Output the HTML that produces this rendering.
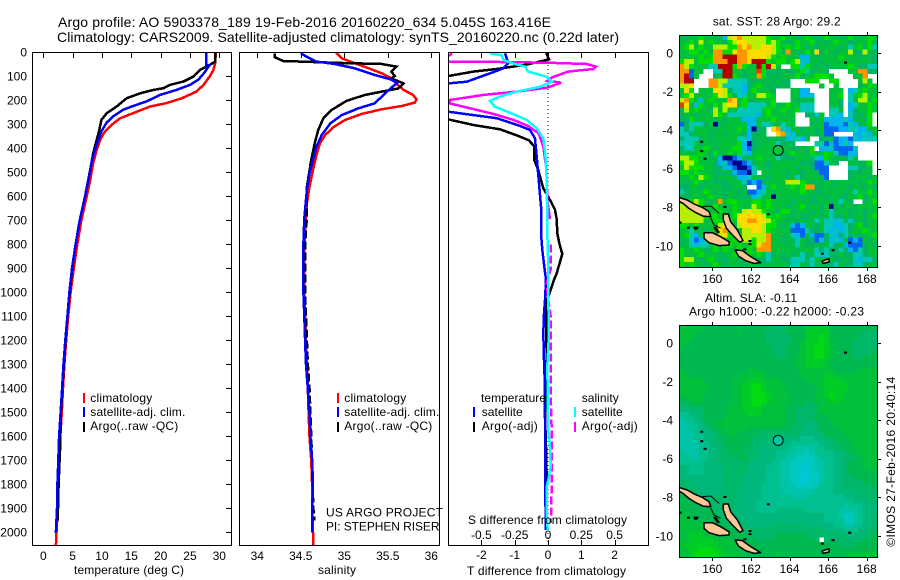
<!DOCTYPE html>
<html lang="en">
<head>
<meta charset="utf-8">
<title>Argo profile 5903378_189</title>
<style>
html,body{margin:0;padding:0;background:#fff;width:900px;height:580px;overflow:hidden}
svg{display:block}
text{font-family:"Liberation Sans",Arial,sans-serif;font-size:12px;fill:#000}
.t14{font-size:14px}
</style>
</head>
<body>
<svg id="chart" xmlns="http://www.w3.org/2000/svg" width="900" height="580" viewBox="0 0 900 580">
  <defs>
    <clipPath id="clip-p1"><rect x="33" y="53" width="198" height="492"/></clipPath>
    <clipPath id="clip-p2"><rect x="240" y="53" width="199" height="492"/></clipPath>
    <clipPath id="clip-p3"><rect x="449" y="53" width="199" height="492"/></clipPath>
    <clipPath id="clip-m1"><rect x="680" y="36" width="197" height="231"/></clipPath>
    <clipPath id="clip-m2"><rect x="680" y="326" width="197" height="231"/></clipPath>
  </defs>
  <text class="t14" x="58" y="27" textLength="493">Argo profile: AO 5903378_189 19-Feb-2016 20160220_634 5.045S 163.416E</text>
  <text class="t14" x="57" y="42" textLength="562">Climatology: CARS2009. Satellite-adjusted climatology: synTS_20160220.nc (0.22d later)</text>

  <g id="layer-maps"></g>
  <g id="layer-series"></g>
  <g id="layer-axes"></g>

  <text x="74" y="574" textLength="110">temperature (deg C)</text>
  <text x="318" y="574" textLength="38">salinity</text>
  <text x="468" y="524" textLength="159">S difference from climatology</text>
  <text x="467" y="575" textLength="159">T difference from climatology</text>

  <g>
    <rect x="83" y="393" width="2" height="10" fill="#f00"/>
    <rect x="83" y="407" width="2" height="10" fill="#00f"/>
    <rect x="83" y="422" width="2" height="10" fill="#000"/>
    <text x="90.3" y="402" textLength="62">climatology</text>
    <text x="90.3" y="416" textLength="95">satellite-adj. clim.</text>
    <text x="90.3" y="430" textLength="88">Argo(..raw -QC)</text>
  </g>
  <g>
    <rect x="337" y="393" width="2" height="10" fill="#f00"/>
    <rect x="337" y="407" width="2" height="10" fill="#00f"/>
    <rect x="337" y="422" width="2" height="10" fill="#000"/>
    <text x="344.3" y="402" textLength="62">climatology</text>
    <text x="344.3" y="416" textLength="95">satellite-adj. clim.</text>
    <text x="344.3" y="430" textLength="88">Argo(..raw -QC)</text>
  </g>
  <g>
    <text x="481" y="402" textLength="65">temperature</text>
    <rect x="473" y="407" width="2" height="10" fill="#00f"/>
    <rect x="473" y="422" width="2" height="10" fill="#000"/>
    <text x="481.7" y="416" textLength="41">satellite</text>
    <text x="481.7" y="430" textLength="56">Argo(-adj)</text>
    <text x="581.7" y="402" textLength="37">salinity</text>
    <rect x="574" y="407" width="2" height="10" fill="#0ff"/>
    <rect x="574" y="422" width="2" height="10" fill="#f0f"/>
    <text x="581.7" y="416" textLength="41">satellite</text>
    <text x="581.7" y="430" textLength="56">Argo(-adj)</text>
  </g>
  <text x="326" y="516.7" textLength="117">US ARGO PROJECT</text>
  <text x="326" y="530.7" textLength="113.5">PI: STEPHEN RISER</text>

  <text x="712.7" y="25.7" textLength="128">sat. SST: 28 Argo: 29.2</text>
  <text x="705" y="302" textLength="92">Altim. SLA: -0.11</text>
  <text x="689" y="315.7" textLength="175">Argo h1000: -0.22 h2000: -0.23</text>
  <text transform="translate(895,546.7) rotate(-90)" x="0" y="0" textLength="170">©IMOS 27-Feb-2016 20:40:14</text>
</svg>
<script>
// ---------- axis tick values ----------
const depthTicks = [0,100,200,300,400,500,600,700,800,900,1000,1100,1200,1300,1400,1500,1600,1700,1800,1900,2000];
const tempTicks = [0,5,10,15,20,25,30];
const salTicks = [34,34.5,35,35.5,36];
const salTickLabels = ['34','34.5','35','35.5','36'];
const tDiffTicks = [-2,-1,0,1,2];
const sDiffTicks = [-0.5,-0.25,0,0.25,0.5];
const sDiffLabels = ['-0.5','-0.25','0','0.25','0.5'];
const lonTicks = [160,162,164,166,168];
const latTicks = [0,-2,-4,-6,-8,-10];

// ---------- temperature profiles ----------
const tempClimDepth = [0,46,74,100,136,164,192,212,226,254,275,303,330,365,407,462,532,601,700,800,900,1000,1100,1200,1300,1400,1500,1600,1700,1800,1900,2000,2053];
const tempClimValue = [29.4,29.3,29.0,28.4,27.3,26.1,23.6,21.0,18.2,15.3,13.1,11.6,10.5,9.7,9.1,8.5,8.0,7.4,6.5,5.8,5.2,4.65,4.25,3.9,3.6,3.35,3.15,2.9,2.7,2.55,2.45,2.25,2.15];
const tempSatDepth = [0,53,56,90,115,136,157,178,205,224,240,268,293,330,365,407,462,532,601,700,800,900,1000,1100,1200,1300,1400,1500,1600,1700,1800,1900,2000];
const tempSatValue = [27.8,27.8,28.3,27.3,26.4,25.0,22.7,19.9,17.6,15.3,13.6,11.9,10.8,9.9,9.4,8.8,8.2,7.7,7.1,6.2,5.5,4.9,4.45,4.1,3.75,3.45,3.2,2.95,2.7,2.55,2.4,2.33,2.15];
const tempArgoDepth = [0,39,57,74,101,122,136,150,157,171,192,226,254,282,330,365,421,490,601,700,800,900,1000,1100,1200,1300,1400,1500,1660,1800,1950];
const tempArgoValue = [29.3,29.3,28.1,26.7,25.6,23.9,21.6,20.5,18.8,16.5,14.2,12.5,10.8,9.9,9.5,9.1,8.5,8.0,7.1,6.2,5.5,4.95,4.5,4.1,3.8,3.5,3.25,3.0,2.85,2.6,2.45];

// ---------- salinity profiles ----------
const salClimDepth = [0,26,39,67,88,109,137,157,178,196,210,224,238,257,282,313,345,380,428,490,560,629,800,1000,1200,1400,1500,1600,1700,1800,1900,2000,2053];
const salClimValue = [34.90,34.97,35.07,35.28,35.43,35.54,35.62,35.68,35.79,35.83,35.81,35.66,35.43,35.2,35.01,34.87,34.78,34.72,34.68,34.64,34.6,34.57,34.54,34.54,34.56,34.58,34.59,34.6,34.62,34.63,34.63,34.64,34.64];
const salSatDepth = [5,19,39,49,67,95,113,127,151,178,213,234,262,296,345,393,449,504,574,692,800,900,1000,1100,1200,1300,1400,1500,1600,1700,1800,1900,2000];
const salSatValue = [34.50,34.57,34.68,34.89,35.12,35.35,35.53,35.61,35.53,35.45,35.35,35.16,34.97,34.84,34.74,34.68,34.64,34.6,34.57,34.54,34.53,34.53,34.53,34.54,34.55,34.56,34.58,34.6,34.61,34.63,34.64,34.63,34.63];
const salArgoDepth = [5,21,37,39,44,49,60,81,99,109,130,151,164,178,202,241,275,324,380,449,560,685,800,900,1000,1100,1200,1300,1400,1500,1600,1700,1800,1900,1950];
const salArgoValue = [34.2,34.2,34.3,34.51,34.89,35.43,35.6,35.54,35.58,35.54,35.68,35.62,35.43,35.24,35.03,34.85,34.76,34.7,34.66,34.62,34.57,34.57,34.55,34.55,34.55,34.56,34.57,34.58,34.6,34.61,34.62,34.63,34.635,34.645,34.655];

// ---------- differences from climatology ----------
const tDiffArgoDepth = [0,30,52,70,81,99,130,250,280,303,321,349,366,391,449,491,567,623,657,695,754,796,840,921,956,997,1032,1088,1171,1254,1365,1407,1546,1643,1782,1950];
const tDiffArgoValue = [-0.06,0.03,-0.66,-1.54,-2.24,-2.99,-3.6,-3.6,-2.99,-2.24,-1.44,-0.89,-0.59,-0.41,-0.41,-0.29,-0.14,0.09,0.21,0.26,0.28,0.34,0.43,0.26,0.16,0.06,-0.02,-0.06,-0.06,-0.04,-0.04,-0.07,-0.08,-0.06,-0.04,-0.04];
const tDiffSatDepth = [5,46,67,88,123,130,160,240,248,262,275,307,324,359,435,546,643,699,754,824,893,949,1032,1088,1171,1282,1365,1435,1615,1782,1851,1990];
const tDiffSatValue = [-1.29,-1.19,-1.34,-1.74,-2.44,-2.99,-3.6,-3.6,-2.99,-2.24,-1.54,-0.84,-0.54,-0.39,-0.34,-0.27,-0.21,-0.21,-0.21,-0.17,-0.11,-0.06,-0.09,-0.12,-0.14,-0.12,-0.1,-0.1,-0.08,-0.08,-0.08,-0.06];
const sDiffArgoDepth = [5,21,39,41,44,49,60,70,81,105,119,127,148,164,178,199,213,237,257,282,307,338,393,477,532,616,695,800,900,962,1032,1101,1310,1450,1560,1740,1960];
const sDiffArgoValue = [-0.72,-0.76,-0.75,-0.36,0.015,0.29,0.36,0.34,0.15,0.03,-0.005,0.10,-0.01,-0.235,-0.485,-0.735,-0.74,-0.56,-0.41,-0.26,-0.15,-0.07,-0.035,-0.015,-0.01,-0.005,0.015,0.022,0.022,-0.01,0.002,0.02,0.02,0.02,0.027,0.03,0.022];
const sDiffSatDepth = [5,12,32,49,60,81,102,123,144,164,185,202,227,252,282,317,359,421,532,699,754,893,1032,1171,1310,1573,1643,1726,1782,1810,1921,1990];
const sDiffSatValue = [-0.435,-0.35,-0.335,-0.25,-0.17,-0.15,-0.01,0.03,-0.06,-0.235,-0.36,-0.435,-0.4,-0.285,-0.16,-0.085,-0.035,-0.02,-0.01,-0.005,-0.005,0.0025,0.0025,0.0075,-0.005,0.0025,0.015,0.02,0.0025,-0.01,-0.01,-0.0025];

// ---------- SST map: one string per 0.25 deg row, one letter per cell, '.' = no data ----------
const sstLevels = 'abcdefghijkl';
const sstRows = [
'feffgffefchijhhhhhgffgffefgfefgffefgeffgf',
'ffgfhfgffeghiihhhhghgfefgffgefefgffefffge',
'fghfgffhhhggjijhhiihgfgfgfefeffffefdfgegd',
'ffggfgfjjggijjiiiiihgejfefgfieffeffheehfe',
'ffffgfgjjllljjiiiihgfgfffccfeffffgfffefee',
'ghhfgggjjjlljjilllgfggfghdcffeffffffffffe',
'jhgfffddlllgjgfflglhf..ggdgfefeffffgfeedd',
'jjbff..ddllffeffkgeeefeefgdeffe....ffjjee',
'jlbf...efllgfeffjgefefffgeffgggf....ffj..',
'jll...jjhhddddeefefefee...ggg..gg....fhf.',
'hhi...jjhddddcefgfefefe......f..f....efgf',
'fig.fffiiheddcfgfffe...ffcc....fff.cdfgff',
'fghffffgihgeddffhhgf...ffccc...ffg.dfghff',
'hjgfcfgfffjifgfefffg...fefff...ffe.dfhhfg',
'kifcgffgfhiifgddddfgefgffddd...ffe.cdffgf',
'ehfgffehfhffdddddfgffgffgddd...ddf.ceffgf',
'effefffhgfddddddcfgfffff..eedf.ddc.deefg.',
'eegffffefefffcccfffgffff...fefccccdcefeg.',
'bedddefaefffffccfddefdff...effbcccbdcefg.',
'dedffffeffffgfcaee.ijdcffeffefbbbccddccff',
'ddefffeffefffeceef..ijdcffefefbb....ccdcf',
'edddefefffffddceffefeecddcf..effbccbdcddd',
'dddfeffeffffgcaeefffdefe....ddbcbcdc.....',
'eddffgfefffggcbefffffffeefeg.ccdbbbbd....',
'ffffgfegffgfgdcffffeeefgffegffgfdbbcc....',
'hhggffefcaabceffgfffdeeefffedcgfefedf....',
'ghhgfffecdbaabceffeffffffeeebbdfe..ffefg.',
'fhgggffeeccbaabdffefffffeffebbb....ddeef.',
'ggfgfffeefecbbad.fffffeffeffebb....efeff.',
'ffgfhgfefffeccdfffefffefdefffeb....efffef',
'fefgfefeeefffdbcbeffffhhhgfefeffeffffefgf',
'eeffeffffeeffe..bcfgfffgfgjjeffefffeffefe',
'defffgfefeffefbbcdfefffffgffeeffffefdffgf',
'feffffgffefefeecdffafffffefeffeffeeffgeff',
'gfghgfefjfggfffggfgffffefffeeffefdfe..efg',
'hhhhgffgfffgfffhgfgfffeffgeffefafeffeffff',
'hhhhhgffgffgfhihhgffeggefffefefdeffeffeff',
'hhhhhgggfefgiiiiihgfgffefeeffefdeefeffefg',
'hhhhhffggdgfiijjiihgffefefefdfddcdedefeff',
'ggfgfffehihfhiiiihggfefcbcffefddccdefgeff',
'ffdffeffijggfhhiihgffffbbbdeefdcdcdeffgff',
'fgdcfeffhigfghhhhhjffefdcbfcbbedcedefeffg',
'fedbcdfffgfgghhghhjffefedfeebcecdcfbcbfef',
'efdcddfgfggfgfggijjfffefdfeefefdefcbbbefe',
'gffgfefgfgffgfgfjjjfffffefffdedeedecbdeff',
'gfffgfffeffgffgfgfdefefefdefdddeefeeddeff',
'ghhfefgfeeffefffeedffeedddedfeffeefedcdde',
'gfgffefgfefffefffeffffeddfedefeedfeeddef'.padEnd(41,'f')
];

// ---------- SLA map: digit levels 0 (cyan) .. 9 (bright green) ----------
const slaRows = [
'77777666666676666665556666888886666666666',
'77776666666676666655556666888886666666555',
'77766666666666666655555666888986666665555',
'77666666666666666655555667888987666655555',
'76666666666666666665556667889987666655555',
'66666666666666666665556667889987666655556',
'66666666666666666666556677889987666655666',
'66666666666666666666666677888877666666666',
'66666666666666666666666677888876666666666',
'76666666666666777666666667777777666667777',
'77666666666677778766666667777788777777777',
'77777666666777888777766666777788887777777',
'77777766666778899877776666667788888777777',
'77777766666778899877776666667788888777777',
'77777666666778899987777666667789887777777',
'66777666666778899987777666667778887777777',
'55666666667778899877776666556777777777777',
'44555666667778888777776655556777777777777',
'33445666667777888777776655556677777777777',
'23345666677777777777776655556667777777777',
'22334566777777777777776655445666777777777',
'22334456677777666666666555445666677777777',
'22233445667766665555555554444566667777777',
'22233445566666655554444443334455666777777',
'22223345566666655444444333333445566677777',
'22223344556666555444443322223344556677777',
'32223344556665554444333222123333445667777',
'33223344555566554444332211112333445566777',
'33333444555555544443322111012233445666777',
'44333444455555444433322110012233445666777',
'44333444455555444433322100011233445666666',
'44444444455554444433322110011233445566666',
'55444444455554444433322110011233445555666',
'55544444455554444333322211112333445555556',
'65554444455544444333322222223333444455555',
'66655445555544444333333222233333334445555',
'66666555555544443333333333333333333344455',
'66666655555544443333333333333333332333444',
'76666665555444443333444444333333322223444',
'77666666555544444444444444444433321123445',
'77776666655554444444444444444433331123445',
'77777666665555444445555555444444332233445',
'77777766666665555555555555555544443334455',
'77888777666666555555666666555555555444556',
'77888887777666665566666666665.55555555666',
'78888888777766666666666666666666655566666',
'77889998877766666666666666666666666666666',
'77899999877776666666766666666666666777777'
];

// ---------- map annotations (lon/lat) ----------
const argoLon = [163.416];
const argoLat = [-5.045];
const landLons = [
 [158.28,158.71,159.05,159.48,159.83,159.92,159.52,159.14,158.76,158.48,158.28],
 [160.57,160.83,160.95,161.30,161.59,161.42,161.04,160.73,160.57],
 [159.57,160.0,160.43,160.87,160.87,160.35,159.83,159.57],
 [161.18,161.56,161.99,162.51,162.16,161.73,161.35],
 [165.69,166.05,166.05,165.74]
];
const landLats = [
 [-7.48,-7.62,-7.82,-8.0,-8.22,-8.48,-8.45,-8.27,-8.03,-7.79,-7.68],
 [-8.34,-8.34,-8.74,-9.17,-9.72,-9.81,-9.43,-9.08,-8.65],
 [-9.31,-9.31,-9.52,-9.78,-9.95,-9.98,-9.83,-9.6],
 [-10.2,-10.24,-10.55,-10.86,-10.9,-10.76,-10.52],
 [-10.78,-10.66,-10.83,-10.90]
];
const reefLons = [
 [159.48,159.92,160.35],
 [159.92,160.09,160.43]
];
const reefLats = [
 [-7.96,-7.93,-8.31],
 [-8.55,-8.91,-9.08]
];
const isletLon = [159.1,159.2,159.14,160.14,160.25,160.2,160.3,160.66,162.9,161.95,161.95,161.69,159.62,159.45,159.45,166.9,158.33,158.76,166.26,165.71,167.12];
const isletLat = [-9.05,-9.05,-9.11,-9.05,-9.2,-9.13,-9.28,-7.98,-8.36,-9.74,-9.9,-10.17,-5.48,-5.09,-4.6,-0.5,-8.79,-9.05,-10.22,-10.4,-9.83];

// ---------- axis functions ----------
const SVGNS = 'http://www.w3.org/2000/svg';
const yDepth = d => 52.2 + d * 0.2401;
const xTemp = t => 43.3 + t * 5.867;
const xSal = s => 257.3 + (s - 34) * 87;
const xTDiff = t => 548 + t * 33.3;
const xSDiff = s => 548 + s * 133.2;
const xLon = lon => 712.3 + (lon - 160) * 19.3;
const ySst = lat => 53 - lat * 19.3;
const ySla = lat => 343 - lat * 19.3;

const seriesLayer = document.getElementById('layer-series');
const axesLayer = document.getElementById('layer-axes');
const mapsLayer = document.getElementById('layer-maps');

function drawLine(parent, name, clip, color, xFn, depths, values, deepFrom) {
  const shallow = [];
  const deep = [];
  depths.forEach((d, i) => {
    const p = xFn(values[i]).toFixed(1) + ',' + yDepth(d).toFixed(1);
    if (deepFrom === undefined || d <= deepFrom) shallow.push(p);
    if (deepFrom !== undefined && d >= deepFrom) deep.push(p);
  });
  const el = document.createElementNS(SVGNS, 'polyline');
  
  
  el.setAttribute('points', shallow.join(' '));
  el.setAttribute('fill', 'none');
  el.setAttribute('stroke', color);
  el.setAttribute('stroke-width', '2.5');
  el.setAttribute('clip-path', 'url(#' + clip + ')');
  parent.appendChild(el);
  if (deep.length) {
    const dashed = document.createElementNS(SVGNS, 'polyline');
    
    
    dashed.setAttribute('points', deep.join(' '));
    dashed.setAttribute('fill', 'none');
    dashed.setAttribute('stroke', color);
    dashed.setAttribute('stroke-width', '2.5');
    dashed.setAttribute('stroke-dasharray', '8 3');
    dashed.setAttribute('clip-path', 'url(#' + clip + ')');
    parent.appendChild(dashed);
  }
}

function addLine(parent, name, x1, y1, x2, y2) {
  const el = document.createElementNS(SVGNS, 'line');
  
  
  el.setAttribute('x1', x1);
  el.setAttribute('y1', y1);
  el.setAttribute('x2', x2);
  el.setAttribute('y2', y2);
  el.setAttribute('stroke', '#000');
  el.setAttribute('stroke-width', '1');
  el.setAttribute('shape-rendering', 'crispEdges');
  parent.appendChild(el);
  return el;
}

function addLabel(parent, name, x, y, str, anchor) {
  const el = document.createElementNS(SVGNS, 'text');
  
  
  el.setAttribute('x', x);
  el.setAttribute('y', y);
  el.setAttribute('text-anchor', anchor);
  el.textContent = str;
  parent.appendChild(el);
}

function addFrame(parent, name, x, y, w, h) {
  const el = document.createElementNS(SVGNS, 'rect');
  
  
  el.setAttribute('x', x);
  el.setAttribute('y', y);
  el.setAttribute('width', w);
  el.setAttribute('height', h);
  el.setAttribute('fill', 'none');
  el.setAttribute('stroke', '#000');
  el.setAttribute('stroke-width', '1');
  el.setAttribute('shape-rendering', 'crispEdges');
  parent.appendChild(el);
}

// ---------- profile series ----------
const zeroLine = addLine(seriesLayer, 'zero-difference-line', xTDiff(0), 53, xTDiff(0), 545);
zeroLine.setAttribute('stroke-dasharray', '1 3');

drawLine(seriesLayer, 'temperature-climatology-line', 'clip-p1', '#f00', xTemp, tempClimDepth, tempClimValue);
drawLine(seriesLayer, 'temperature-argo-line', 'clip-p1', '#000', xTemp, tempArgoDepth, tempArgoValue);
drawLine(seriesLayer, 'temperature-satellite-line', 'clip-p1', '#00f', xTemp, tempSatDepth, tempSatValue);

drawLine(seriesLayer, 'salinity-climatology-line', 'clip-p2', '#f00', xSal, salClimDepth, salClimValue);
drawLine(seriesLayer, 'salinity-argo-line', 'clip-p2', '#000', xSal, salArgoDepth, salArgoValue, 560);
drawLine(seriesLayer, 'salinity-satellite-line', 'clip-p2', '#00f', xSal, salSatDepth, salSatValue);

drawLine(seriesLayer, 't-difference-argo-line', 'clip-p3', '#000', xTDiff, tDiffArgoDepth, tDiffArgoValue);
drawLine(seriesLayer, 't-difference-satellite-line', 'clip-p3', '#00f', xTDiff, tDiffSatDepth, tDiffSatValue);
drawLine(seriesLayer, 's-difference-argo-line', 'clip-p3', '#f0f', xSDiff, sDiffArgoDepth, sDiffArgoValue, 700);
drawLine(seriesLayer, 's-difference-satellite-line', 'clip-p3', '#0ff', xSDiff, sDiffSatDepth, sDiffSatValue);

seriesLayer.querySelectorAll('polyline').forEach(p => p.setAttribute('shape-rendering', 'crispEdges'));

// ---------- profile axes ----------
addFrame(axesLayer, 'temperature-plot-frame', 32.5, 52.5, 199, 493);
addFrame(axesLayer, 'salinity-plot-frame', 239.5, 52.5, 200, 493);
addFrame(axesLayer, 'difference-plot-frame', 448.5, 52.5, 200, 493);

depthTicks.forEach((d, i) => {
  const y = Math.round(yDepth(d)) + 0.5;
  if (i > 0) addLine(axesLayer, 'depth-tick', 226, y, 231, y);
  addLabel(axesLayer, 'depth-tick-label', 27, yDepth(d) + 4.3, String(d), 'end');
});
tempTicks.forEach(t => {
  const x = Math.round(xTemp(t)) + 0.5;
  addLine(axesLayer, 'temperature-tick', x, 53, x, 58);
  addLabel(axesLayer, 'temperature-tick-label', xTemp(t), 560, String(t), 'middle');
});
salTicks.forEach((s, i) => {
  const x = Math.round(xSal(s)) + 0.5;
  addLine(axesLayer, 'salinity-tick', x, 53, x, 58);
  addLabel(axesLayer, 'salinity-tick-label', xSal(s), 560, salTickLabels[i], 'middle');
});
tDiffTicks.forEach(t => {
  const x = Math.round(xTDiff(t)) + 0.5;
  addLine(axesLayer, 't-difference-top-tick', x, 53, x, 58);
  addLine(axesLayer, 't-difference-bottom-tick', x, 540, x, 545);
  addLabel(axesLayer, 't-difference-tick-label', xTDiff(t), 559, String(t), 'middle');
});
sDiffTicks.forEach((s, i) => {
  addLabel(axesLayer, 's-difference-tick-label', xSDiff(s), 539, sDiffLabels[i], 'middle');
});

// ---------- maps ----------
const sstColormap = ['#00008c','#0064f0','#00b4f0','#00c8b4','#00b464','#00c03c','#00e000','#b4f000','#ffdc00','#ff9600','#e63c00','#b40000'];
const slaColormap = ['#00c8d2','#00c8be','#00c4a8','#00c090','#00b87c','#00b86a','#00b850','#00c03c','#00cc28','#00dc10'];
const GRID_LON0 = 158.29;
const GRID_LAT0 = 0.93;
const GRID_STEP = 0.25;

function drawGrid(name, clip, rows, yFn, colorFn) {
  const g = document.createElementNS(SVGNS, 'g');
  
  
  g.setAttribute('clip-path', 'url(#' + clip + ')');
  g.setAttribute('shape-rendering', 'crispEdges');
  rows.forEach((row, r) => {
    for (let c = 0; c < row.length; c++) {
      const color = colorFn(row[c]);
      if (!color) continue;
      const cell = document.createElementNS(SVGNS, 'rect');
      
      
      const x0 = xLon(GRID_LON0 + c * GRID_STEP);
      const x1 = xLon(GRID_LON0 + (c + 1) * GRID_STEP);
      const y0 = yFn(GRID_LAT0 - r * GRID_STEP);
      const y1 = yFn(GRID_LAT0 - (r + 1) * GRID_STEP);
      cell.setAttribute('x', x0.toFixed(2));
      cell.setAttribute('y', y0.toFixed(2));
      cell.setAttribute('width', (x1 - x0 + 0.3).toFixed(2));
      cell.setAttribute('height', (y1 - y0 + 0.3).toFixed(2));
      cell.setAttribute('fill', color);
      g.appendChild(cell);
    }
  });
  mapsLayer.appendChild(g);
}

drawGrid('sst-heatmap', 'clip-m1', sstRows, ySst, ch => sstColormap[sstLevels.indexOf(ch)]);
drawGrid('sla-heatmap', 'clip-m2', slaRows, ySla, ch => slaColormap[parseInt(ch, 10)]);

function drawMapOverlay(prefix, clip, yFn, circleFill) {
  const g = document.createElementNS(SVGNS, 'g');
  
  
  g.setAttribute('clip-path', 'url(#' + clip + ')');
  reefLons.forEach((lons, i) => {
    const reef = document.createElementNS(SVGNS, 'polyline');
    
    
    reef.setAttribute('points', lons.map((lon, j) => xLon(lon).toFixed(1) + ',' + yFn(reefLats[i][j]).toFixed(1)).join(' '));
    reef.setAttribute('fill', 'none');
    reef.setAttribute('stroke', '#000');
    reef.setAttribute('stroke-width', '1');
    g.appendChild(reef);
  });
  landLons.forEach((lons, i) => {
    const poly = document.createElementNS(SVGNS, 'polygon');
    
    
    poly.setAttribute('points', lons.map((lon, j) => xLon(lon).toFixed(1) + ',' + yFn(landLats[i][j]).toFixed(1)).join(' '));
    poly.setAttribute('fill', '#fcc898');
    poly.setAttribute('stroke', '#000');
    poly.setAttribute('stroke-width', '1.5');
    poly.setAttribute('stroke-linejoin', 'round');
    g.appendChild(poly);
  });
  isletLon.forEach((lon, i) => {
    const dot = document.createElementNS(SVGNS, 'rect');
    
    
    dot.setAttribute('x', (xLon(lon) - 1.5).toFixed(1));
    dot.setAttribute('y', (yFn(isletLat[i]) - 1).toFixed(1));
    dot.setAttribute('width', '3');
    dot.setAttribute('height', '2');
    dot.setAttribute('fill', '#000');
    g.appendChild(dot);
  });
  const marker = document.createElementNS(SVGNS, 'circle');
  
  
  marker.setAttribute('cx', xLon(argoLon[0]).toFixed(1));
  marker.setAttribute('cy', yFn(argoLat[0]).toFixed(1));
  marker.setAttribute('r', '5');
  marker.setAttribute('fill', circleFill);
  marker.setAttribute('stroke', '#000');
  marker.setAttribute('stroke-width', '1');
  g.appendChild(marker);
  mapsLayer.appendChild(g);
}
drawMapOverlay('sst-map', 'clip-m1', ySst, '#00c83c');
drawMapOverlay('sla-map', 'clip-m2', ySla, '#00c8a0');

function drawMapAxes(prefix, top, bottom, yFn) {
  addFrame(axesLayer, prefix + '-frame', 679.5, top + 0.5, 198, bottom - top);
  lonTicks.forEach(lon => {
    const x = Math.round(xLon(lon)) + 0.5;
    addLine(axesLayer, prefix + '-lon-tick-top', x, top - 3, x, top);
    addLine(axesLayer, prefix + '-lon-tick-bottom', x, bottom + 1, x, bottom + 4);
    addLabel(axesLayer, prefix + '-lon-label', xLon(lon), bottom + 16, String(lon), 'middle');
  });
  latTicks.forEach(lat => {
    const y = Math.round(yFn(lat)) + 0.5;
    addLine(axesLayer, prefix + '-lat-tick', 878, y, 881, y);
    addLabel(axesLayer, prefix + '-lat-label', 673, yFn(lat) + 4.3, String(lat), 'end');
  });
}
drawMapAxes('sst-map', 35, 267, ySst);
drawMapAxes('sla-map', 325, 557, ySla);
</script>
</body>
</html>
